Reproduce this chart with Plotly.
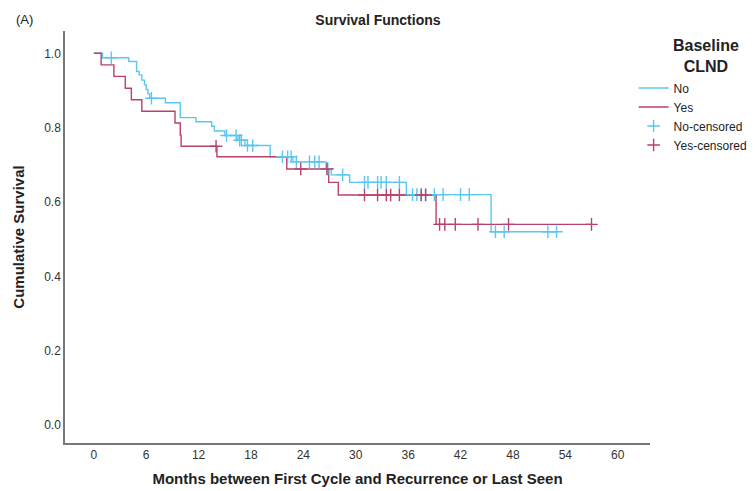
import numpy as np
import plotly.graph_objects as go

# ---- data ----
no_times = [0, 1.0, 4.0, 4.9, 5.2, 5.5, 5.8, 6.0, 6.2, 6.4, 8.2, 9.9, 11.7, 13.5, 13.8,
            15.0, 16.5, 17.3, 20.2, 22.8, 26.6, 27.2, 29.3, 35.8, 45.5]
no_surv = [1.0, 0.988, 0.978, 0.951, 0.942, 0.928, 0.915, 0.903, 0.891, 0.879, 0.867, 0.827,
           0.816, 0.804, 0.791, 0.779, 0.766, 0.752, 0.722, 0.708, 0.690, 0.673, 0.653, 0.620, 0.520]
no_censor = [2.0, 6.6, 15.2, 16.3, 16.7, 16.9, 17.6, 18.2, 21.6, 22.2, 22.6, 23.2, 24.7, 25.3,
             25.8, 26.8, 28.5, 31.0, 31.4, 32.5, 32.9, 33.5, 35.0, 36.5, 37.0, 37.5, 38.0,
             39.0, 40.0, 42.0, 43.0, 46.0, 47.0, 52.0, 53.0]

yes_times = [0, 0.84, 2.3, 3.6, 4.3, 5.5, 9.3, 9.9, 10.0, 14.1, 22.1, 26.9, 28.0, 39.2]
yes_surv = [1.0, 0.969, 0.938, 0.906, 0.875, 0.844, 0.8125, 0.78, 0.75, 0.722, 0.689, 0.653,
            0.619, 0.54]
yes_censor = [14.0, 23.7, 26.7, 31.0, 32.5, 33.5, 34.0, 35.0, 37.5, 38.0, 39.6, 40.2, 41.4,
              44.0, 47.5, 57.0]

x_ticks = [0, 6, 12, 18, 24, 30, 36, 42, 48, 54, 60]
y_ticks = [0.0, 0.2, 0.4, 0.6, 0.8, 1.0]

BLUE = "#5cc6f0"
RED = "#b8426c"
FONT = "Arial, Liberation Sans, sans-serif"


def step_value(times, surv, t):
    idx = np.searchsorted(np.array(times), t, side="right") - 1
    return np.array(surv)[idx]


fig = go.Figure()
for name, times, surv, cens, col, rank in [("No", no_times, no_surv, no_censor, BLUE, 1),
                                            ("Yes", yes_times, yes_surv, yes_censor, RED, 2)]:
    end = max(cens[-1], times[-1])
    fig.add_trace(go.Scatter(x=list(times) + [end], y=list(surv) + [surv[-1]],
                             mode="lines", line=dict(color=col, width=1.4, shape="hv"),
                             name=name, legendrank=rank))
for name, times, surv, cens, col, rank in [("No-censored", no_times, no_surv, no_censor, BLUE, 3),
                                            ("Yes-censored", yes_times, yes_surv, yes_censor, RED, 4)]:
    fig.add_trace(go.Scatter(x=cens, y=step_value(times, surv, cens), mode="markers",
                             marker=dict(symbol="cross-thin", size=9, color=col,
                                         line=dict(color=col, width=1.4)),
                             name=name, legendrank=rank))

fig.update_layout(
    width=755, height=491,
    margin=dict(l=57, r=113, t=23, b=56, autoexpand=False),
    paper_bgcolor="white", plot_bgcolor="white",
    font=dict(family=FONT, color="#222"),
    title=dict(text="<b>Survival Functions</b>", x=0.49, xanchor="center", y=0.976,
               yanchor="middle", font=dict(size=14, color="#222")),
    showlegend=True,
    legend=dict(x=0.972, xanchor="left", y=0.897, yanchor="top",
                font=dict(size=12, color="#222"), tracegroupgap=0),
    annotations=[
        dict(text="(A)", xref="paper", yref="paper", x=-0.087, y=1.027,
             xanchor="left", yanchor="middle", showarrow=False,
             font=dict(size=13, color="#222")),
        dict(text="<b>Baseline<br>CLND</b>", xref="paper", yref="paper", x=1.095, y=0.9405,
             xanchor="center", yanchor="middle", align="center", showarrow=False,
             font=dict(size=16, color="#222")),
    ],
)
fig.update_xaxes(range=[-3.3, 63.7], tickvals=x_ticks, showgrid=False, zeroline=False,
                 showline=True, linecolor="#777", linewidth=1.5, ticks="", automargin=False,
                 tickfont=dict(size=12, color="#333"),
                 title=dict(text="<b>Months between First Cycle and Recurrence or Last Seen</b>",
                            font=dict(size=15, color="#222"), standoff=12))
fig.update_yaxes(range=[-0.048, 1.06], tickvals=y_ticks, tickformat=".1f", showgrid=False,
                 zeroline=False, showline=True, linecolor="#777", linewidth=1.5, ticks="",
                 automargin=False, tickfont=dict(size=12, color="#333"),
                 title=dict(text="<b>Cumulative Survival</b>", font=dict(size=15, color="#222"),
                            standoff=16))

fig.write_html("out.html")
